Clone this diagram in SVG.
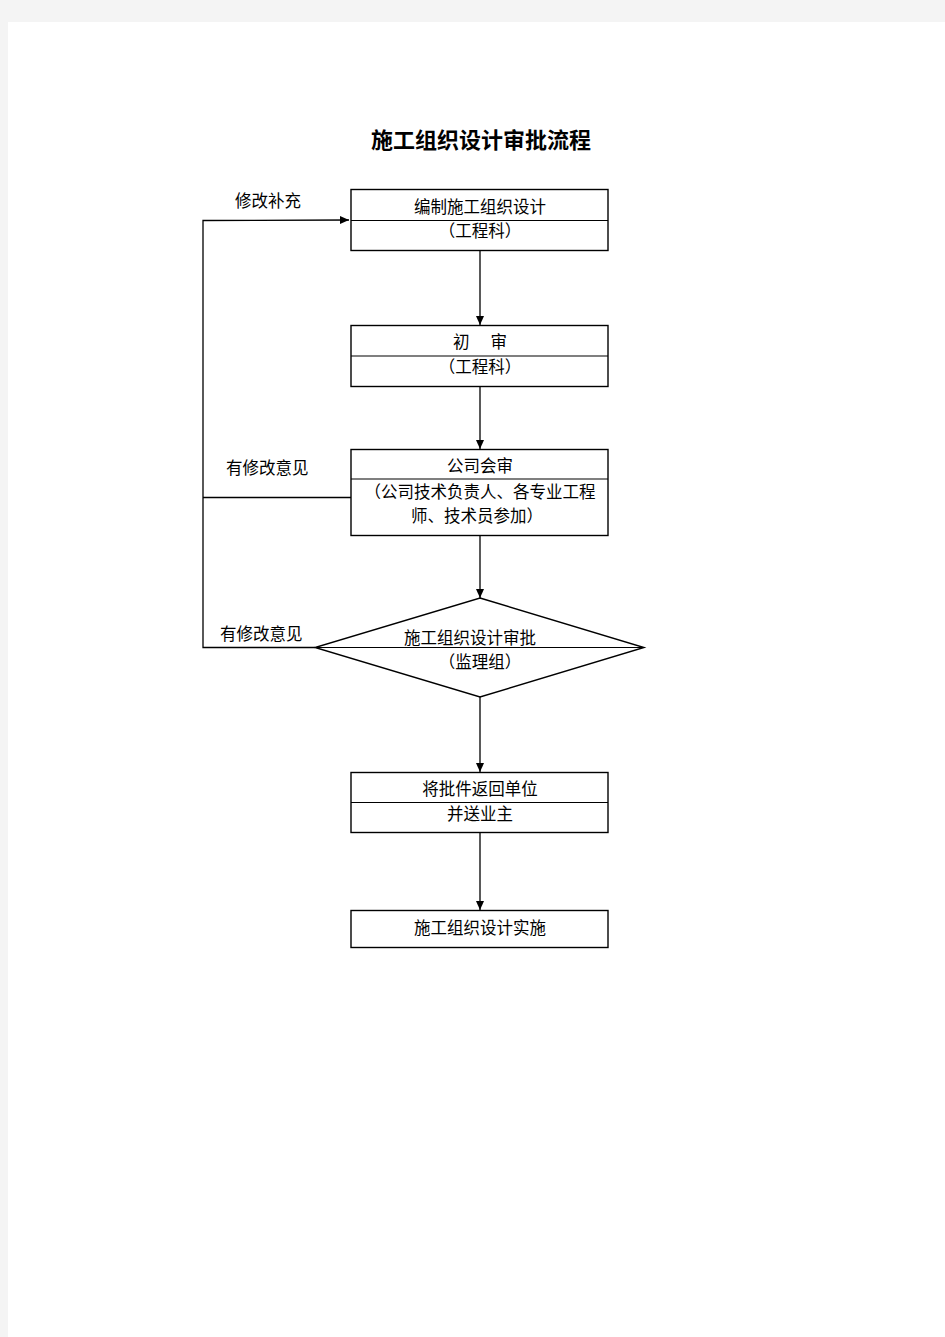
<svg xmlns="http://www.w3.org/2000/svg" width="945" height="1337" viewBox="0 0 945 1337">
<style>
.box{fill:#fff;stroke:#000;stroke-width:1.4}
.div{stroke:#000;stroke-width:1.2}
.ln{fill:none;stroke:#000;stroke-width:1.3}
.t{font-family:"Liberation Sans","Noto Sans CJK SC",sans-serif;font-size:16.5px;fill:#000;text-anchor:middle;dominant-baseline:central}
.lbl{font-family:"Liberation Sans","Noto Sans CJK SC",sans-serif;font-size:16.5px;fill:#000;dominant-baseline:central}
.title{font-family:"Liberation Serif","Noto Sans CJK SC",serif;font-size:22px;font-weight:bold;fill:#000;text-anchor:middle;dominant-baseline:central}
</style>
<defs>
<marker id="ah" markerWidth="10" markerHeight="10" refX="9" refY="5" orient="auto" markerUnits="userSpaceOnUse">
<path d="M0,1 L9,5 L0,9 Z" fill="#000"/>
</marker>
</defs>
<rect x="0" y="0" width="945" height="1337" fill="#f4f4f4"/>
<rect x="8" y="22" width="937" height="1315" fill="#fff"/>
<text class="title" x="481" y="140">施工组织设计审批流程</text>

<g id="connectors">
<line class="ln" x1="480" y1="251" x2="480" y2="325" marker-end="url(#ah)"/>
<line class="ln" x1="480" y1="387" x2="480" y2="449" marker-end="url(#ah)"/>
<line class="ln" x1="480" y1="535" x2="480" y2="598" marker-end="url(#ah)"/>
<line class="ln" x1="480" y1="697" x2="480" y2="772" marker-end="url(#ah)"/>
<line class="ln" x1="480" y1="833" x2="480" y2="910" marker-end="url(#ah)"/>
<polyline class="ln" points="315,647.5 203,647.5 203,220.5 349,220" marker-end="url(#ah)"/>
<line class="ln" x1="203" y1="497.5" x2="351" y2="497.5"/>
<text class="lbl" x="235" y="201">修改补充</text>
<text class="lbl" x="226" y="468">有修改意见</text>
<text class="lbl" x="220" y="634">有修改意见</text>
</g>

<g id="node1">
<rect class="box" x="351" y="189.5" width="257" height="61"/>
<line class="div" x1="351" y1="220.5" x2="608" y2="220.5"/>
<text class="t" x="480" y="207">编制施工组织设计</text>
<text class="t" x="480" y="231">（工程科）</text>
</g>

<g id="node2">
<rect class="box" x="351" y="325.5" width="257" height="61"/>
<line class="div" x1="351" y1="356" x2="608" y2="356"/>
<text class="t" x="480" y="342">初　 审</text>
<text class="t" x="480" y="367">（工程科）</text>
</g>

<g id="node3">
<rect class="box" x="351" y="449.5" width="257" height="86"/>
<line class="div" x1="351" y1="479" x2="608" y2="479"/>
<text class="t" x="480" y="466">公司会审</text>
<text class="t" x="480" y="492">（公司技术负责人、各专业工程</text>
<text class="t" x="477" y="516">师、技术员参加）</text>
</g>

<g id="node4">
<polygon class="box" points="480,598 644,647.5 480,697 315,647.5"/>
<line class="div" x1="315" y1="647.5" x2="644" y2="647.5"/>
<text class="t" x="470" y="638">施工组织设计审批</text>
<text class="t" x="480" y="662">（监理组）</text>
</g>

<g id="node5">
<rect class="box" x="351" y="772.5" width="257" height="60"/>
<line class="div" x1="351" y1="802.5" x2="608" y2="802.5"/>
<text class="t" x="480" y="789">将批件返回单位</text>
<text class="t" x="480" y="814">并送业主</text>
</g>

<g id="node6">
<rect class="box" x="351" y="910.5" width="257" height="37"/>
<text class="t" x="480" y="928">施工组织设计实施</text>
</g>
</svg>
